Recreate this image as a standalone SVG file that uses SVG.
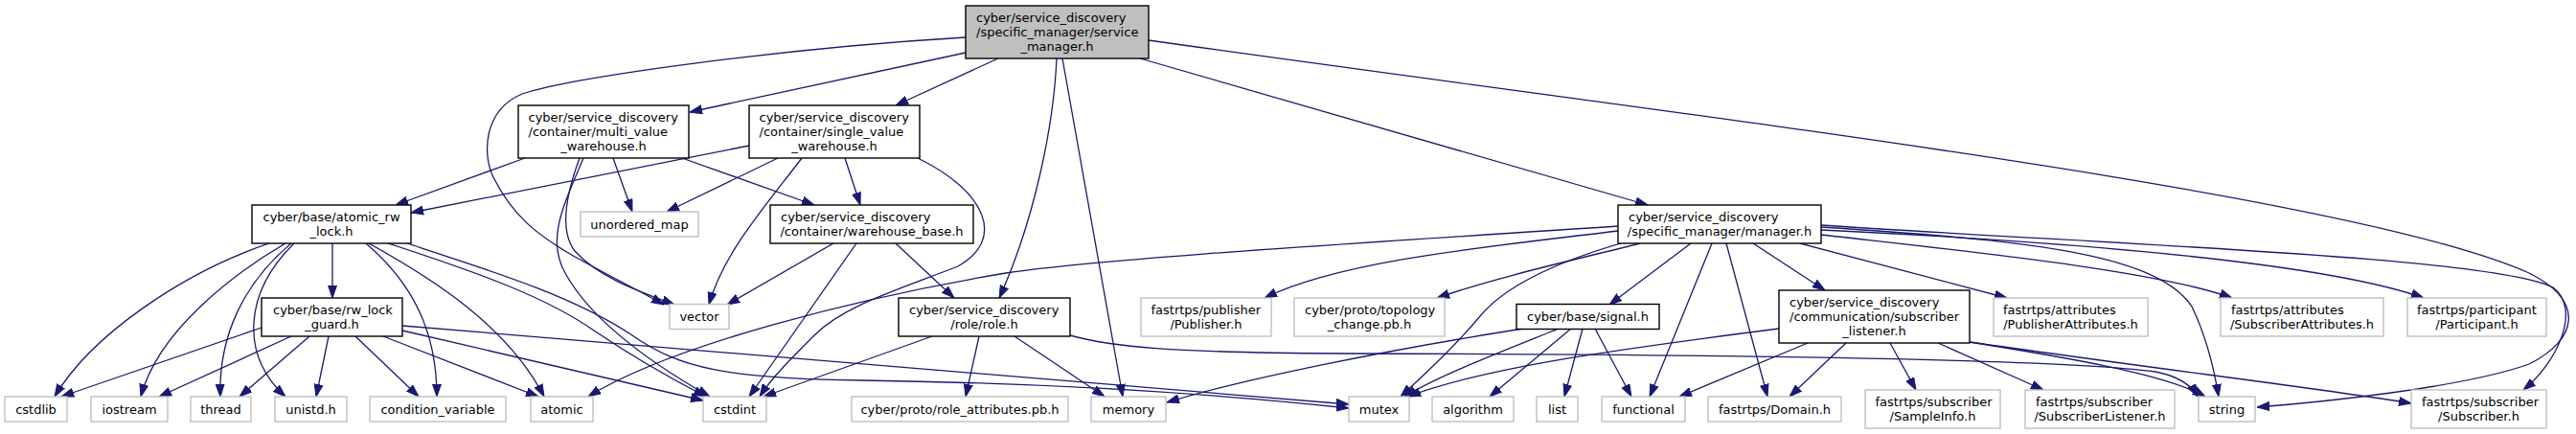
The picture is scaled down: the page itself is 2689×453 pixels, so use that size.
<svg xmlns="http://www.w3.org/2000/svg" width="2689" height="453" viewBox="0 0 2689 453">
<style>
.n rect{fill:#fff;stroke:#000;stroke-width:1.4}
.x rect{fill:#fff;stroke:#bfbfbf;stroke-width:1.4}
.r rect{fill:#bfbfbf;stroke:#000;stroke-width:1.4}
text{font-family:"DejaVu Sans","Liberation Sans",sans-serif;font-size:13px;fill:#000}
.c{text-anchor:middle}
#edges path{fill:none;stroke:#191970;stroke-width:1.3;marker-end:url(#ah)}
</style>
<defs>
<marker id="ah" markerUnits="userSpaceOnUse" viewBox="0 0 13 10" refX="13" refY="5" markerWidth="13" markerHeight="10" orient="auto">
<path d="M0,0.5 L13,5 L0,9.5 z" fill="#191970" stroke="#191970" stroke-width="1"/>
</marker>
</defs>
<rect width="2689" height="453" fill="#fff"/>
<g id="edges">
<path d="M1008,55 L720,117"/>
<path d="M1042,61 L935,110"/>
<path d="M1008,39 C 820,50 600,80 545,98 C 505,115 503,160 515,185 C 535,225 560,245 600,268 C 640,290 670,305 693,318"/>
<path d="M1103,61 C 1100,130 1080,230 1043,311"/>
<path d="M1109,61 L1172,414"/>
<path d="M1190,61 L1720,214"/>
<path d="M1199,42 C 1750,120 2450,200 2640,285 C 2700,315 2690,355 2640,380 C 2570,405 2420,420 2356,425"/>
<path d="M548,165 L413,214"/>
<path d="M640,165 L660,221"/>
<path d="M712,165 L850,214"/>
<path d="M605,165 C 592,200 583,240 600,262 C 625,290 670,305 704,318"/>
<path d="M609,165 C 588,215 570,250 590,285 C 620,340 690,385 741,414"/>
<path d="M782,152 L429,222"/>
<path d="M812,165 L696,221"/>
<path d="M837,165 C 795,220 755,265 740,318"/>
<path d="M882,165 L898,214"/>
<path d="M958,165 C 1030,200 1050,250 1000,278 C 930,305 880,320 850,350 C 825,375 805,395 793,414"/>
<path d="M870,254 L759,318"/>
<path d="M894,254 L782,414"/>
<path d="M935,254 L996,311"/>
<path d="M281,254 C 190,285 95,350 57,414"/>
<path d="M298,254 C 245,285 165,345 147,414"/>
<path d="M304,254 C 255,295 228,350 230,414"/>
<path d="M307,254 C 255,305 250,370 298,414"/>
<path d="M347,254 L347,311"/>
<path d="M382,254 C 430,295 456,345 456,414"/>
<path d="M385,254 C 450,290 530,340 568,414"/>
<path d="M405,254 C 500,285 570,310 620,345 C 660,372 700,395 737,414"/>
<path d="M425,254 C 520,285 600,310 660,350 C 710,385 760,395 900,397 C 1100,400 1260,410 1408,426"/>
<path d="M273,342 L64,414"/>
<path d="M304,351 L166,414"/>
<path d="M323,351 L250,414"/>
<path d="M343,351 L330,414"/>
<path d="M371,351 L437,414"/>
<path d="M400,351 L562,414"/>
<path d="M420,345 L734,418"/>
<path d="M420,340 L1408,422"/>
<path d="M973,351 L797,414"/>
<path d="M1022,351 L1008,414"/>
<path d="M1059,351 L1153,414"/>
<path d="M1117,350 C 1160,362 1220,368 1400,369 C 1800,370 2150,374 2250,388 C 2275,393 2288,403 2294,414"/>
<path d="M1689,236 C 1400,255 1150,270 1050,285 C 900,310 700,360 614,414"/>
<path d="M1689,241 C 1550,258 1400,272 1320,311"/>
<path d="M1712,254 C 1640,272 1560,290 1500,311"/>
<path d="M1692,254 C 1620,275 1570,300 1545,330 C 1520,360 1490,388 1462,414"/>
<path d="M1765,254 L1680,318"/>
<path d="M1787,254 L1722,414"/>
<path d="M1802,254 L1845,414"/>
<path d="M1830,254 L1905,303"/>
<path d="M1879,254 L2095,311"/>
<path d="M1901,245 C 2050,262 2250,282 2330,311"/>
<path d="M1901,240 C 2150,252 2420,272 2530,311"/>
<path d="M1901,237 C 2100,250 2250,262 2288,320 C 2305,355 2312,390 2316,414"/>
<path d="M1901,235 C 2200,255 2600,268 2665,300 C 2695,322 2670,378 2634,407"/>
<path d="M1590,343 C 1450,365 1300,395 1218,420"/>
<path d="M1627,343 C 1560,370 1500,393 1466,414"/>
<path d="M1640,343 L1555,414"/>
<path d="M1652,343 L1633,414"/>
<path d="M1665,343 L1703,414"/>
<path d="M1857,343 C 1700,363 1550,383 1470,414"/>
<path d="M1887,358 L1753,414"/>
<path d="M1927,358 L1868,414"/>
<path d="M1973,358 L2000,407"/>
<path d="M2023,358 L2133,407"/>
<path d="M2056,357 C 2150,372 2260,390 2302,414"/>
<path d="M2056,357 C 2250,385 2420,405 2517,421"/>
</g>
<g id="root" class="r"><rect x="1008" y="6" width="191" height="55"/><text x="1019" y="22.5">cyber/service_discovery</text><text x="1019" y="37.5">/specific_manager/service</text><text class="c" x="1103.5" y="52.5">_manager.h</text></g>
<g id="multi_value_warehouse" class="n"><rect x="541" y="110" width="178" height="55"/><text x="551.5" y="126.5">cyber/service_discovery</text><text x="551.5" y="141.5">/container/multi_value</text><text class="c" x="630" y="156.5">_warehouse.h</text></g>
<g id="single_value_warehouse" class="n"><rect x="782" y="110" width="178" height="55"/><text x="792.5" y="126.5">cyber/service_discovery</text><text x="792.5" y="141.5">/container/single_value</text><text class="c" x="871" y="156.5">_warehouse.h</text></g>
<g id="atomic_rw_lock" class="n"><rect x="263" y="214" width="166" height="40"/><text x="274.5" y="230.5">cyber/base/atomic_rw</text><text class="c" x="346" y="245.5">_lock.h</text></g>
<g id="warehouse_base" class="n"><rect x="804" y="214" width="212" height="40"/><text x="815" y="230.5">cyber/service_discovery</text><text class="c" x="910" y="245.5">/container/warehouse_base.h</text></g>
<g id="manager" class="n"><rect x="1689" y="214" width="212" height="40"/><text x="1700" y="230.5">cyber/service_discovery</text><text class="c" x="1795" y="245.5">/specific_manager/manager.h</text></g>
<g id="unordered_map" class="x"><rect x="606" y="221" width="123" height="26"/><text class="c" x="667.5" y="238.5">unordered_map</text></g>
<g id="rw_lock_guard" class="n"><rect x="273" y="311" width="147" height="40"/><text x="285" y="327.5">cyber/base/rw_lock</text><text class="c" x="346.5" y="342.5">_guard.h</text></g>
<g id="vector" class="x"><rect x="699" y="317.5" width="62" height="26"/><text class="c" x="730" y="335">vector</text></g>
<g id="role" class="n"><rect x="938" y="311" width="179" height="40"/><text x="949" y="327.5">cyber/service_discovery</text><text class="c" x="1027.5" y="342.5">/role/role.h</text></g>
<g id="publisher" class="x"><rect x="1191" y="311" width="136" height="40"/><text x="1201.5" y="327.5">fastrtps/publisher</text><text class="c" x="1259" y="342.5">/Publisher.h</text></g>
<g id="topology_change" class="x"><rect x="1351" y="311" width="157" height="40"/><text x="1362" y="327.5">cyber/proto/topology</text><text class="c" x="1429.5" y="342.5">_change.pb.h</text></g>
<g id="signal" class="n"><rect x="1583" y="317.5" width="149" height="26"/><text class="c" x="1657.5" y="335">cyber/base/signal.h</text></g>
<g id="subscriber_listener" class="n"><rect x="1857" y="303" width="199" height="55"/><text x="1868" y="319.5">cyber/service_discovery</text><text x="1868" y="334.5">/communication/subscriber</text><text class="c" x="1956.5" y="349.5">_listener.h</text></g>
<g id="publisher_attributes" class="x"><rect x="2081" y="311" width="161" height="40"/><text x="2091" y="327.5">fastrtps/attributes</text><text class="c" x="2161.5" y="342.5">/PublisherAttributes.h</text></g>
<g id="subscriber_attributes" class="x"><rect x="2318" y="311" width="170" height="40"/><text x="2329" y="327.5">fastrtps/attributes</text><text class="c" x="2403" y="342.5">/SubscriberAttributes.h</text></g>
<g id="participant" class="x"><rect x="2513" y="311" width="145" height="40"/><text x="2523" y="327.5">fastrtps/participant</text><text class="c" x="2585.5" y="342.5">/Participant.h</text></g>
<g id="cstdlib" class="x"><rect x="5" y="414" width="65" height="26"/><text class="c" x="37.5" y="431.5">cstdlib</text></g>
<g id="iostream" class="x"><rect x="95" y="414" width="80" height="26"/><text class="c" x="135" y="431.5">iostream</text></g>
<g id="thread" class="x"><rect x="199" y="414" width="63" height="26"/><text class="c" x="230.5" y="431.5">thread</text></g>
<g id="unistd" class="x"><rect x="287" y="414" width="75" height="26"/><text class="c" x="324.5" y="431.5">unistd.h</text></g>
<g id="condition_variable" class="x"><rect x="386" y="414" width="142" height="26"/><text class="c" x="457" y="431.5">condition_variable</text></g>
<g id="atomic" class="x"><rect x="554" y="414" width="65" height="26"/><text class="c" x="586.5" y="431.5">atomic</text></g>
<g id="cstdint" class="x"><rect x="734" y="414" width="66" height="26"/><text class="c" x="767" y="431.5">cstdint</text></g>
<g id="role_attributes" class="x"><rect x="889" y="414" width="226" height="26"/><text class="c" x="1002" y="431.5">cyber/proto/role_attributes.pb.h</text></g>
<g id="memory" class="x"><rect x="1139" y="414" width="78" height="26"/><text class="c" x="1178" y="431.5">memory</text></g>
<g id="mutex" class="x"><rect x="1408" y="414" width="63" height="26"/><text class="c" x="1439.5" y="431.5">mutex</text></g>
<g id="algorithm" class="x"><rect x="1495" y="414" width="85" height="26"/><text class="c" x="1537.5" y="431.5">algorithm</text></g>
<g id="list" class="x"><rect x="1604" y="414" width="43" height="26"/><text class="c" x="1625.5" y="431.5">list</text></g>
<g id="functional" class="x"><rect x="1672" y="414" width="87" height="26"/><text class="c" x="1715.5" y="431.5">functional</text></g>
<g id="domain" class="x"><rect x="1783" y="414" width="139" height="26"/><text class="c" x="1852.5" y="431.5">fastrtps/Domain.h</text></g>
<g id="sample_info" class="x"><rect x="1947" y="407" width="141" height="40"/><text x="1957.5" y="423.5">fastrtps/subscriber</text><text class="c" x="2017.5" y="438.5">/SampleInfo.h</text></g>
<g id="subscriber_listener_h" class="x"><rect x="2114" y="407" width="156" height="40"/><text x="2125" y="423.5">fastrtps/subscriber</text><text class="c" x="2192" y="438.5">/SubscriberListener.h</text></g>
<g id="string" class="x"><rect x="2295" y="414" width="59" height="26"/><text class="c" x="2324.5" y="431.5">string</text></g>
<g id="subscriber" class="x"><rect x="2517" y="407" width="141" height="40"/><text x="2528" y="423.5">fastrtps/subscriber</text><text class="c" x="2587.5" y="438.5">/Subscriber.h</text></g>
</svg>
